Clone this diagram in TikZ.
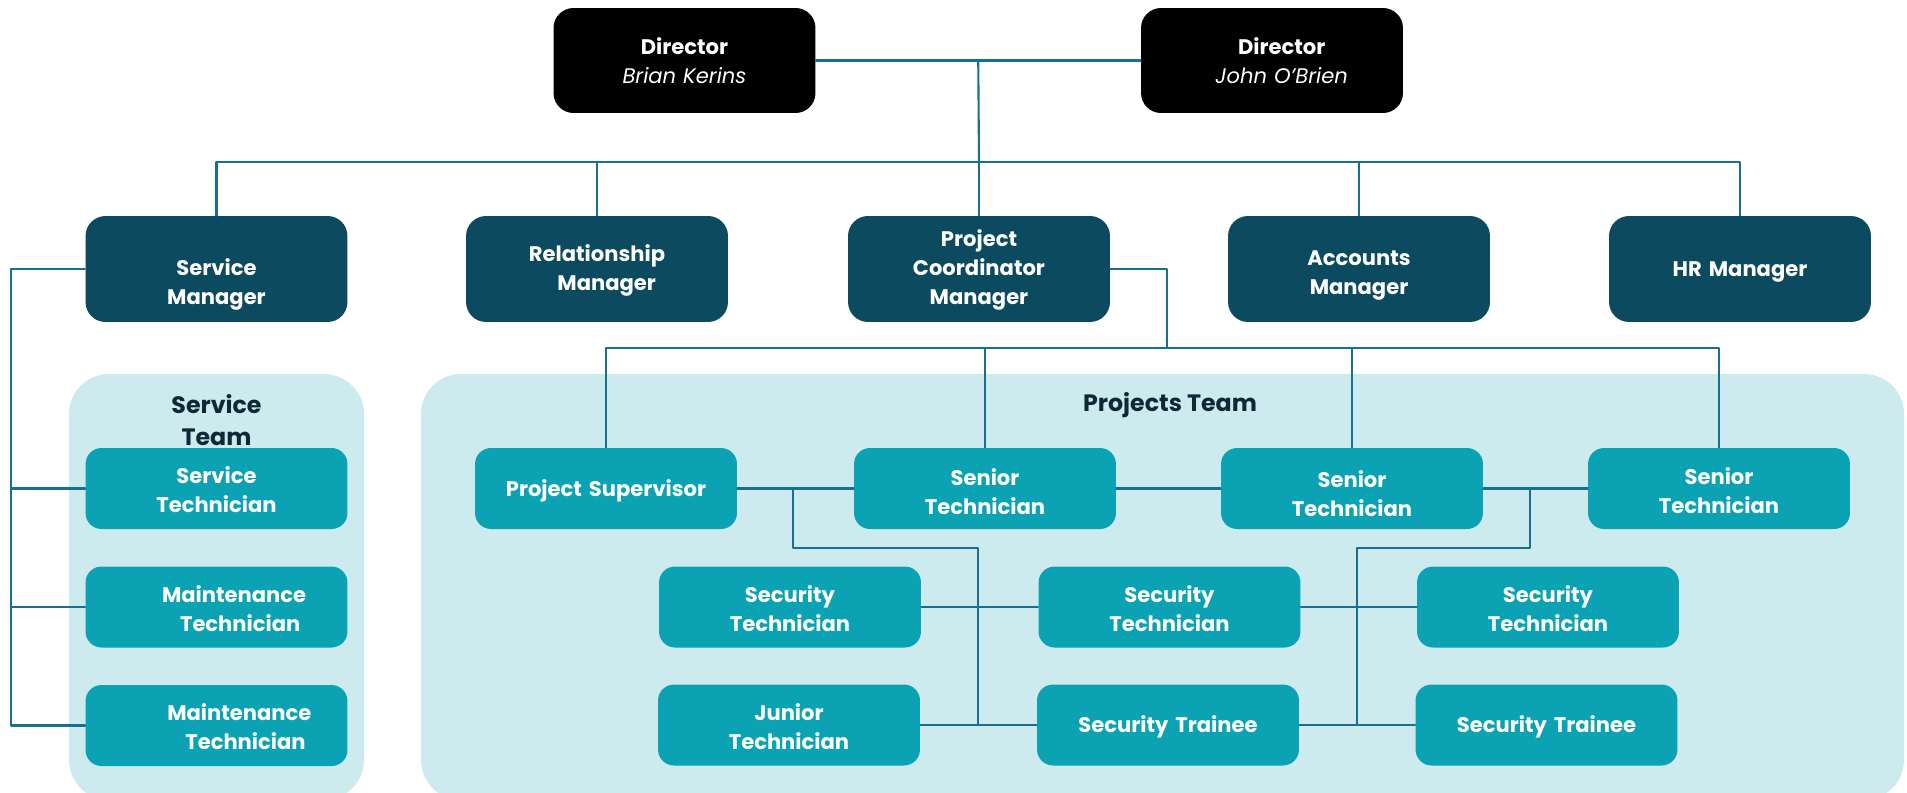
\documentclass[tikz,border=0pt]{standalone}
\usepackage{fontspec}
\setmainfont{Poppins}
\usepackage{xcolor}
\usetikzlibrary{calc}
\definecolor{mgrteal}{HTML}{0C4A60}
\definecolor{teamteal}{HTML}{0BA3B4}
\definecolor{teambg}{HTML}{CDEBEE}
\definecolor{linkblue}{HTML}{17708F}
\definecolor{labelnavy}{HTML}{0F2838}
\newcommand{\txtdrop}[1]{\rule{0pt}{#1}}

\begin{document}
\begin{tikzpicture}[x=0.02cm,y=-0.02cm,line cap=round,line join=round,
  box/.style={rounded corners=0.4cm,text=white,align=center,inner sep=0pt,
    text width=5.24cm,minimum width=5.24cm,font=\bfseries\fontsize{12}{16.5}\selectfont},
  dirbox/.style={box,fill=black,minimum height=2.1cm},
  mgrbox/.style={box,fill=mgrteal,minimum height=2.12cm},
  teambox/.style={box,fill=teamteal,minimum height=1.62cm,rounded corners=0.32cm},
  grp/.style={fill=teambg,rounded corners=0.8cm},
  grplabel/.style={text=labelnavy,align=center,font=\bfseries\fontsize{13.5}{18}\selectfont},
  link/.style={draw=linkblue,line width=1.2pt}]
\useasboundingbox (0,0) rectangle (1907,792);
\fill[grp] (69,374) rectangle (364,800);
\fill[grp] (421,374) rectangle (1904,800);
\node[grplabel] (svclbl) at (216.5,420) {Service\\Team};
\node[grplabel] (prjlbl) at (1170,405) {Projects Team};

\node[dirbox] (dirA) at (684.5,60.5) {Director\\{\mdseries\itshape Brian Kerins}};
\node[dirbox] (dirB) at (1272,60.5) {\hspace*{11pt}Director\\\hspace*{11pt}{\mdseries\itshape John O'Brien}};

\node[mgrbox] (svcmgr) at (216.5,269) {\txtdrop{27pt}Service\\Manager};
\node[mgrbox] (relmgr) at (597,269) {\txtdrop{11pt}Relationship\\\hspace*{11pt}Manager};
\node[mgrbox] (pcmgr) at (979,269) {\txtdrop{11pt}Project\\Coordinator\\Manager};
\node[mgrbox] (accmgr) at (1359,269) {\txtdrop{16pt}Accounts\\Manager};
\node[mgrbox] (hrmgr) at (1740,269) {\txtdrop{12pt}HR Manager};

\node[teambox] (svctech) at (216.5,488.5) {\txtdrop{11pt}Service\\Technician};
\node[teambox] (mnttechA) at (216.5,607) {\txtdrop{11pt}\hspace*{20pt}Maintenance\\\hspace*{27pt}Technician};
\node[teambox] (mnttechB) at (216.5,725.5) {\txtdrop{11pt}\hspace*{26pt}Maintenance\\\hspace*{33pt}Technician};

\node[teambox] (prjsup) at (606,488.5) {\txtdrop{12pt}Project Supervisor};
\node[teambox] (senA) at (985,488.5) {\txtdrop{13pt}Senior\\Technician};
\node[teambox] (senB) at (1352,488.5) {\txtdrop{16pt}Senior\\Technician};
\node[teambox] (senC) at (1719,488.5) {\txtdrop{12pt}Senior\\Technician};
\node[teambox] (secA) at (790,607) {\txtdrop{11pt}Security\\Technician};
\node[teambox] (secB) at (1169.5,607) {\txtdrop{11pt}Security\\Technician};
\node[teambox] (secC) at (1548,607) {\txtdrop{11pt}Security\\Technician};
\node[teambox] (jnrtech) at (789,725) {\txtdrop{11pt}Junior\\Technician};
\node[teambox] (trnA) at (1168,725) {\txtdrop{12pt}Security Trainee};
\node[teambox] (trnB) at (1546.5,725) {\txtdrop{12pt}Security Trainee};

\coordinate (dmid) at ($(dirA.east)!.5!(dirB.west)$);
\coordinate (bus) at (979,162);
\coordinate (svcrail) at (11,725.5);
\coordinate (pbus) at (1167,348);
\coordinate (jA) at (793,488.5);
\coordinate (kA) at (978,548);
\coordinate (jB) at (1530,488.5);
\coordinate (kB) at (1357,548);

\draw[link] (dirA.east) -- (dirB.west);
\draw[link] (dmid) -- (bus);
\draw[link] (svcmgr.north) |- (bus) -| (hrmgr.north);
\draw[link] (relmgr.north) -- (relmgr.north |- bus);
\draw[link] (pcmgr.north) -- (pcmgr.north |- bus);
\draw[link] (accmgr.north) -- (accmgr.north |- bus);

\draw[link] (svcmgr.west) -| (svcrail) -- (mnttechB.west);
\draw[link] (svctech.west) -- (svctech.west -| svcrail);
\draw[link] (mnttechA.west) -- (mnttechA.west -| svcrail);

\draw[link] (pcmgr.east) -| (pbus);
\draw[link] (prjsup.north) |- (pbus) -| (senC.north);
\draw[link] (senA.north) -- (senA.north |- pbus);
\draw[link] (senB.north) -- (senB.north |- pbus);

\draw[link] (prjsup.east) -- (senA.west);
\draw[link] (senA.east) -- (senB.west);
\draw[link] (senB.east) -- (senC.west);
\draw[link] (jA) |- (kA) -- (kA |- trnA);
\draw[link] (jB) |- (kB) -- (kB |- trnA);
\draw[link] (secA.east) -- (secB.west);
\draw[link] (secB.east) -- (secC.west);
\draw[link] (jnrtech.east) -- (trnA.west);
\draw[link] (trnA.east) -- (trnB.west);
\end{tikzpicture}
\end{document}
